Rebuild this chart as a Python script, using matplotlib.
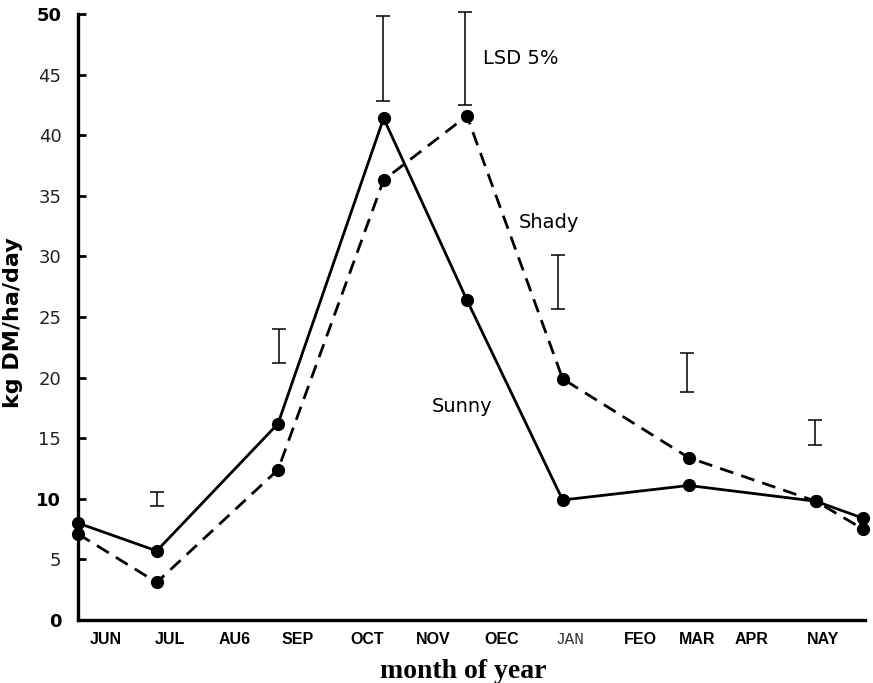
import numpy as np
from matplotlib import pyplot as plt

# sampling dates, in months from the start of the axis
sample_x = [0.0, 1.20, 3.05, 4.66, 5.93, 7.39, 9.31, 11.25, 11.97]
sunny = [8.0, 5.7, 16.2, 41.4, 26.4, 9.9, 11.1, 9.8, 8.4]
shady = [7.1, 3.1, 12.4, 36.3, 41.6, 19.9, 13.4, 9.8, 7.5]

# LSD 5% bars
lsd_x = [1.20, 3.06, 4.65, 5.90, 7.32, 9.28, 11.23]
lsd_lo = [9.4, 21.2, 42.8, 42.5, 25.7, 18.8, 14.4]
lsd_hi = [10.6, 24.0, 49.8, 50.2, 30.1, 22.0, 16.5]

month_pos = [0.43, 1.40, 2.39, 3.35, 4.41, 5.41, 6.46, 7.50, 8.57, 9.44, 10.27, 11.36]
month_lab = ["JUN", "JUL", "AU6", "SEP", "OCT", "NOV", "OEC", "JAN", "FEO", "MAR", "APR", "NAY"]

y_ticks = [0, 5, 10, 15, 20, 25, 30, 35, 40, 45, 50]

fig = plt.figure(figsize=(8.73, 6.83), dpi=100)
ax = fig.add_axes([78/873, 1 - 620/683, (865-78)/873, (620-14)/683])

ax.plot(sample_x, sunny, '-', color='black', lw=2.0, marker='o', ms=8.5, clip_on=False, zorder=3)
ax.plot(sample_x, shady, color='black', lw=2.0, ls=(0, (5, 3)), marker='o', ms=8.5, clip_on=False, zorder=3)

lsd_lo = np.array(lsd_lo)
lsd_hi = np.array(lsd_hi)
mid = (lsd_lo + lsd_hi) / 2
half = (lsd_hi - lsd_lo) / 2
eb = ax.errorbar(lsd_x, mid, yerr=half, fmt='none', ecolor='black', elinewidth=1.1,
                 capsize=5, capthick=1.1)
for a in eb.lines[1] + eb.lines[2]:
    a.set_clip_on(False)

ax.text(6.18, 46.3, "LSD 5%", fontsize=14, va='center', ha='left')
ax.text(6.72, 32.8, "Shady", fontsize=14, va='center', ha='left')
ax.text(5.40, 17.6, "Sunny", fontsize=14, va='center', ha='left')

ax.set_xlim(0, 12.0)
ax.set_ylim(0, 50)

ax.spines['top'].set_visible(False)
ax.spines['right'].set_visible(False)
ax.spines['left'].set_linewidth(2.4)
ax.spines['bottom'].set_linewidth(2.4)

ax.set_yticks(y_ticks)
ax.set_yticklabels([str(v) for v in y_ticks])
ax.tick_params(axis='y', direction='in', length=6, width=2, labelsize=13, pad=12)
for lab in ax.get_yticklabels():
    if lab.get_text() in ("0", "10", "50"):
        lab.set_fontweight('bold')
    else:
        lab.set_color('#222222')

ax.set_xticks(month_pos)
ax.set_xticklabels(month_lab)
ax.tick_params(axis='x', length=0, labelsize=11.5, pad=9)
for lab in ax.get_xticklabels():
    lab.set_fontfamily('Liberation Sans')
    if lab.get_text() == "JAN":
        lab.set_fontfamily('Liberation Mono')
        lab.set_color('#333333')
    else:
        lab.set_fontweight('bold')

ax.set_xlabel("month of year", fontsize=20, fontweight='bold', family='Liberation Serif')
ax.xaxis.set_label_coords((463-78)/787, -0.065)
ax.set_ylabel("kg DM/ha/day", fontsize=16, fontweight='bold')
ax.yaxis.set_label_coords(-(78-23)/787, 0.49)

fig.savefig("out.png", dpi=100)
